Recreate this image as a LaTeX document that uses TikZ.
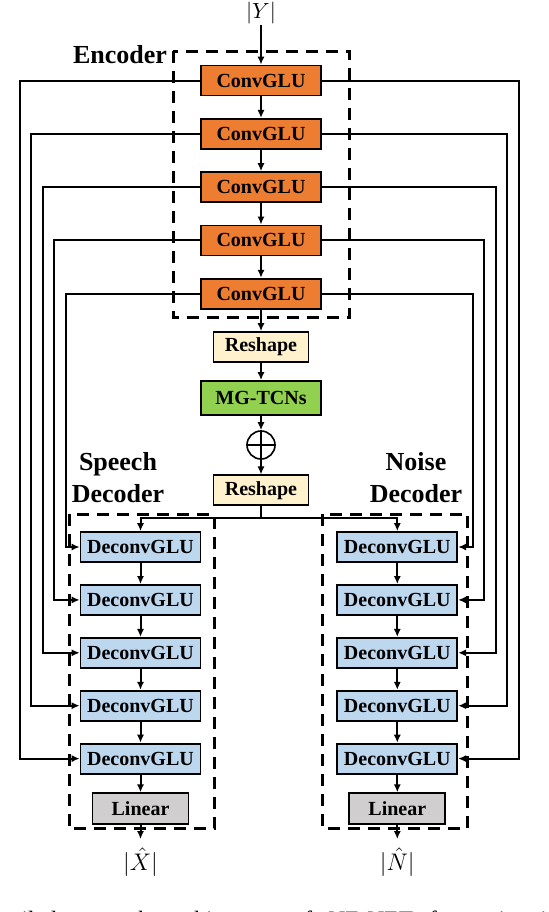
\documentclass[tikz,border=0pt]{standalone}
\usepackage{fontspec}
\setmainfont{Liberation Serif}
\usetikzlibrary{arrows.meta}

\definecolor{convorange}{HTML}{ED7D31}
\definecolor{shapecream}{HTML}{FFF2CC}
\definecolor{tcngreen}{HTML}{92D050}
\definecolor{deconvblue}{HTML}{BDD7EE}
\definecolor{lingray}{HTML}{D0CECE}

\begin{document}
\begin{tikzpicture}[x=0.5pt,y=-0.5pt,
		wire/.style={line width=1pt},
		arr/.style={wire, -{Latex[length=4pt,width=3.6pt]}},
		blk/.style={draw, line width=0.9pt, inner sep=0pt, minimum height=15pt, font=\fontsize{10}{12}\selectfont\bfseries},
		conv/.style={blk, fill=convorange, minimum width=60pt},
		deconv/.style={blk, fill=deconvblue, minimum width=60pt},
		reshape/.style={blk, fill=shapecream, minimum width=47.5pt},
		tcn/.style={blk, fill=tcngreen, minimum width=60pt, minimum height=17pt},
		lin/.style={blk, fill=lingray, minimum width=48pt, minimum height=15.5pt},
		sum/.style={draw, circle, line width=0.8pt, minimum size=14pt, inner sep=0pt},
		grp/.style={draw, line width=1.5pt, dash pattern=on 6pt off 4pt},
		lbl/.style={font=\fontsize{13}{16}\selectfont\bfseries, align=center},
		mathlbl/.style={inner sep=0pt, font=\fontsize{11.5}{13}\selectfont}]
		\useasboundingbox (0,0) rectangle (548,912);
		\draw[grp] (173,51) rectangle (349.3,317.3);
		\draw[grp] (69,514) rectangle (214.3,828.7);
		\draw[grp] (322.7,514) rectangle (467.7,828.7);
		\node[lbl, anchor=base] (enc) at (120,63) {Encoder};
		\node[lbl, anchor=base] (spk) at (118,502.5) {Speech\\Decoder};
		\node[lbl, anchor=base] (noi) at (416,502.5) {Noise\\Decoder};
		\node[mathlbl, anchor=south, font=\fontsize{10.5}{12}\selectfont] (yin) at (261,24.5) {$|Y|$};
		\foreach \i/\y in {1/80.5,2/133.8,3/187.1,4/240.4,5/293.7}
			\node[conv] (e\i) at (261,\y) {ConvGLU};
		\node[reshape] (r1) at (261,347) {Reshape};
		\node[tcn] (mg) at (261,398) {MG-TCNs};
		\node[sum] (add) at (261,445) {};
		\draw[wire] (add.north) -- (add.south) (add.west) -- (add.east);
		\node[reshape] (r2) at (261,490.3) {Reshape};
		\foreach \j/\y in {1/547,2/599.9,3/652.8,4/705.7,5/758.6} {
			\node[deconv] (s\j) at (140.5,\y) {DeconvGLU};
			\node[deconv] (n\j) at (397.3,\y) {DeconvGLU};
		}
		\node[lin] (ls) at (140.5,808.7) {Linear};
		\node[lin] (ln) at (397.3,808.7) {Linear};
		\node[mathlbl, anchor=north] (xhat) at (140.5,847) {$\bigl|\hat{X}\bigr|$};
		\node[mathlbl, anchor=north] (nhat) at (397.3,847) {$\bigl|\hat{N}\bigr|$};
		\draw[arr] (yin) -- (e1);
		\foreach \a/\b in {e1/e2,e2/e3,e3/e4,e4/e5,e5/r1,r1/mg,mg/add,add/r2,s1/s2,s2/s3,s3/s4,s4/s5,s5/ls,n1/n2,n2/n3,n3/n4,n4/n5,n5/ln}
			\draw[arr] (\a) -- (\b);
		\coordinate (split) at (261,518.3);
		\draw[wire] (r2) -- (split);
		\draw[arr] (split) -| (s1);
		\draw[arr] (split) -| (n1);
		\draw[arr, shorten >=4pt] (ls) -- (xhat);
		\draw[arr, shorten >=4pt] (ln) -- (nhat);
		\foreach \i/\j/\lx/\rx in {1/5/19.5/518.5,2/4/31/507,3/3/42.5/495.5,4/2/54/484,5/1/65.5/472.5} {
			\coordinate (L\i) at (\lx,0);
			\coordinate (R\i) at (\rx,0);
			\draw[arr] (e\i.west) -- (e\i.west -| L\i) |- (s\j.west);
			\draw[arr] (e\i.east) -- (e\i.east -| R\i) |- (n\j.east);
		}
		\node[anchor=base west, inner sep=0pt, font=\fontsize{11.75}{14}\selectfont] (cap) at (-18,927) {\spaceskip=8pt detailed network architecture of NE-NET for estimating};
	\end{tikzpicture}
\end{document}
